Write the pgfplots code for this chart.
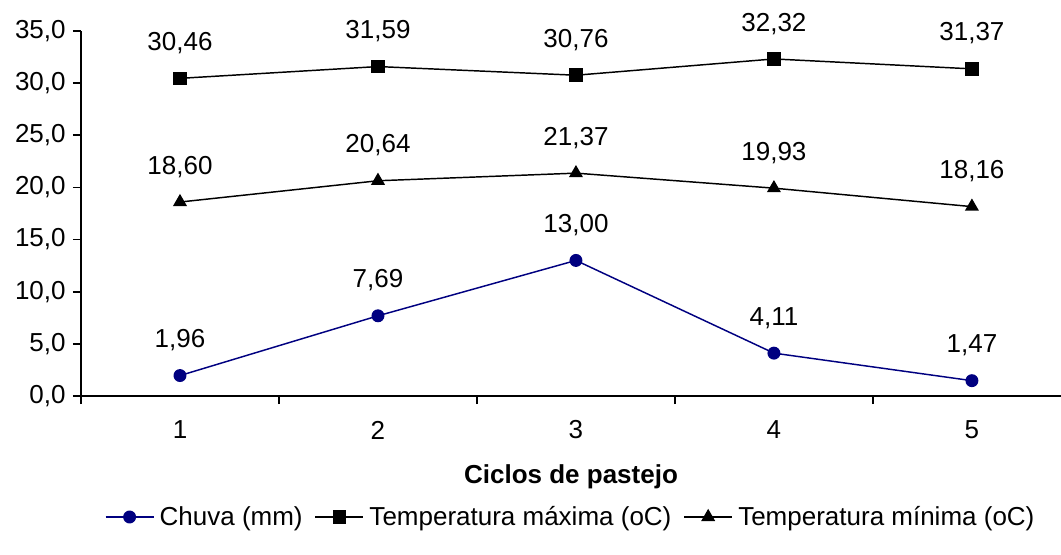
\documentclass[border=0pt]{standalone}
\usepackage{fontspec}
\setmainfont{Liberation Sans}
\usepackage{pgfplots}
\pgfplotsset{compat=1.18}
\definecolor{chuva}{RGB}{0,0,128}
\begin{document}
\begin{tikzpicture}
\useasboundingbox (0,0) rectangle (795.75pt,415.5pt);
\begin{axis}[
  at={(60.75pt,118.5pt)}, anchor=south west,
  scale only axis, width=735pt, height=273.75pt,
  font=\fontsize{19.5}{23}\selectfont,
  xmin=0.5, xmax=5.45, ymin=0, ymax=35,
  axis x line*=bottom, axis y line*=left,
  axis line style={line width=1.2pt},
  tick align=outside, major tick length=6pt,
  every tick/.style={black, line width=1.2pt},
  ytick={0,5,...,35},
  yticklabel style={xshift=-2pt},
  xtick={0.5,1.5,2.5,3.5,4.5}, xticklabels={,,,,,},
  extra x ticks={1,2,3,4,5}, extra x tick labels={1,2,3,4,5},
  extra x tick style={major tick length=0pt, xticklabel style={anchor=center, yshift=-25.5pt}},
  /pgf/number format/.cd, use comma, fixed, fixed zerofill, precision=1, assume math mode=true,
  /pgfplots/.cd,
  clip=false,
  xlabel={\textbf{Ciclos de pastejo}},
  xlabel style={at={(axis description cs:0.5,-0.222)}, anchor=center},
  nodes near coords,
  every node near coord/.append style={anchor=center, yshift=26.5pt, text=black,
     /pgf/number format/precision=2, /pgf/number format/fixed zerofill},
  legend columns=3,
  legend style={draw=none, at={(0.5,-0.3315)}, anchor=center, font=\fontsize{19.5}{23}\selectfont,
    /tikz/every even column/.append style={column sep=7pt},
    /tikz/every odd column/.append style={column sep=2pt}},
  legend image code/.code={\draw[mark repeat=2,mark phase=2] plot coordinates {(0pt,0pt) (18pt,0pt) (36pt,0pt)};},
]
\addplot[chuva, line width=1.1pt, mark=*, mark size=4.3pt] coordinates {(1,1.96) (2,7.69) (3,13.00) (4,4.11) (5,1.47)};
\addlegendentry{Chuva (mm)}
\addplot[black, line width=1.1pt, mark=square*, mark size=4.5pt] coordinates {(1,30.46) (2,31.59) (3,30.76) (4,32.32) (5,31.37)};
\addlegendentry{Temperatura máxima (oC)}
\addplot[black, line width=1.1pt, mark=triangle*, mark size=5pt] coordinates {(1,18.60) (2,20.64) (3,21.37) (4,19.93) (5,18.16)};
\addlegendentry{Temperatura mínima (oC)}
\end{axis}
\end{tikzpicture}
\end{document}
